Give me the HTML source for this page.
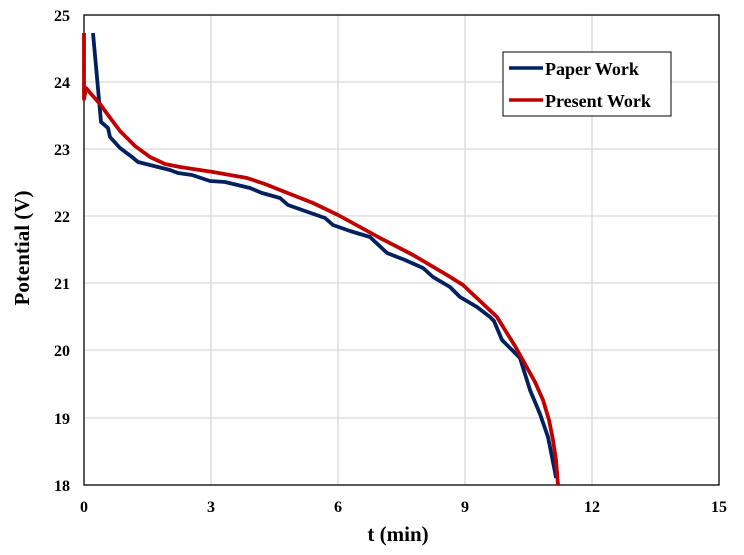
<!DOCTYPE html>
<html><head><style>
html,body{margin:0;padding:0;background:#fff;}
svg{display:block;}
text{font-family:"Liberation Serif",serif;font-weight:bold;fill:#000;}
</style></head><body>
<svg width="744" height="555" viewBox="0 0 744 555">
<g stroke="#d9d9d9" stroke-width="1.3">
<line x1="211" y1="15" x2="211" y2="485"/><line x1="338" y1="15" x2="338" y2="485"/>
<line x1="465" y1="15" x2="465" y2="485"/><line x1="592" y1="15" x2="592" y2="485"/>
<line x1="84" y1="82" x2="719" y2="82"/><line x1="84" y1="149" x2="719" y2="149"/>
<line x1="84" y1="216" x2="719" y2="216"/><line x1="84" y1="283" x2="719" y2="283"/>
<line x1="84" y1="350" x2="719" y2="350"/><line x1="84" y1="418" x2="719" y2="418"/>
</g>
<rect x="84" y="15" width="635" height="470" fill="none" stroke="#000" stroke-width="1.3"/>
<polyline fill="none" stroke="#002060" stroke-width="3.8" stroke-linejoin="round" points="93,33 101,122 108,128 110,137 120,148 132,157 138,162 150,165 170,170 178,173 192,175 210,181 225,182 250,188 262,193 280,198 288,205 305,211 325,218 333,225 350,231 370,237 387,253 405,260 423,268 433,277 450,287 460,297 477,307 490,317 494,321 502,340 520,358 530,390 540,414 548,437 555,472 556,478"/>
<polyline fill="none" stroke="#c00000" stroke-width="3.8" stroke-linejoin="round" points="84,33 84,99 86,88 92,95 100,104 108,115 120,131 135,146 150,157 165,164 180,167 213,172 247,178 265,184 280,190 313,203 338,215 360,227 380,238 413,255 447,275 463,285 480,301 497,317 505,330 515,346 525,364 535,382 543,400 549,420 553,440 556,460 558,485"/>
<rect x="503" y="52" width="168" height="64" fill="#fff" stroke="#000" stroke-width="1"/>
<line x1="509" y1="68" x2="543" y2="68" stroke="#002060" stroke-width="3.5"/>
<line x1="509" y1="100" x2="543" y2="100" stroke="#c00000" stroke-width="3.5"/>
<text x="545" y="75" font-size="18">Paper Work</text>
<text x="545" y="107" font-size="18">Present Work</text>
<g font-size="16" text-anchor="end">
<text x="70" y="21">25</text><text x="70" y="88">24</text><text x="70" y="155">23</text>
<text x="70" y="222">22</text><text x="70" y="289">21</text><text x="70" y="356">20</text>
<text x="70" y="424">19</text><text x="70" y="491">18</text>
</g>
<g font-size="16" text-anchor="middle">
<text x="84" y="512">0</text><text x="211" y="512">3</text><text x="338" y="512">6</text>
<text x="465" y="512">9</text><text x="592" y="512">12</text><text x="719" y="512">15</text>
</g>
<text x="398" y="541" font-size="21" text-anchor="middle">t (min)</text>
<text transform="translate(29,248) rotate(-90)" font-size="21" text-anchor="middle">Potential (V)</text>
</svg>
</body></html>
